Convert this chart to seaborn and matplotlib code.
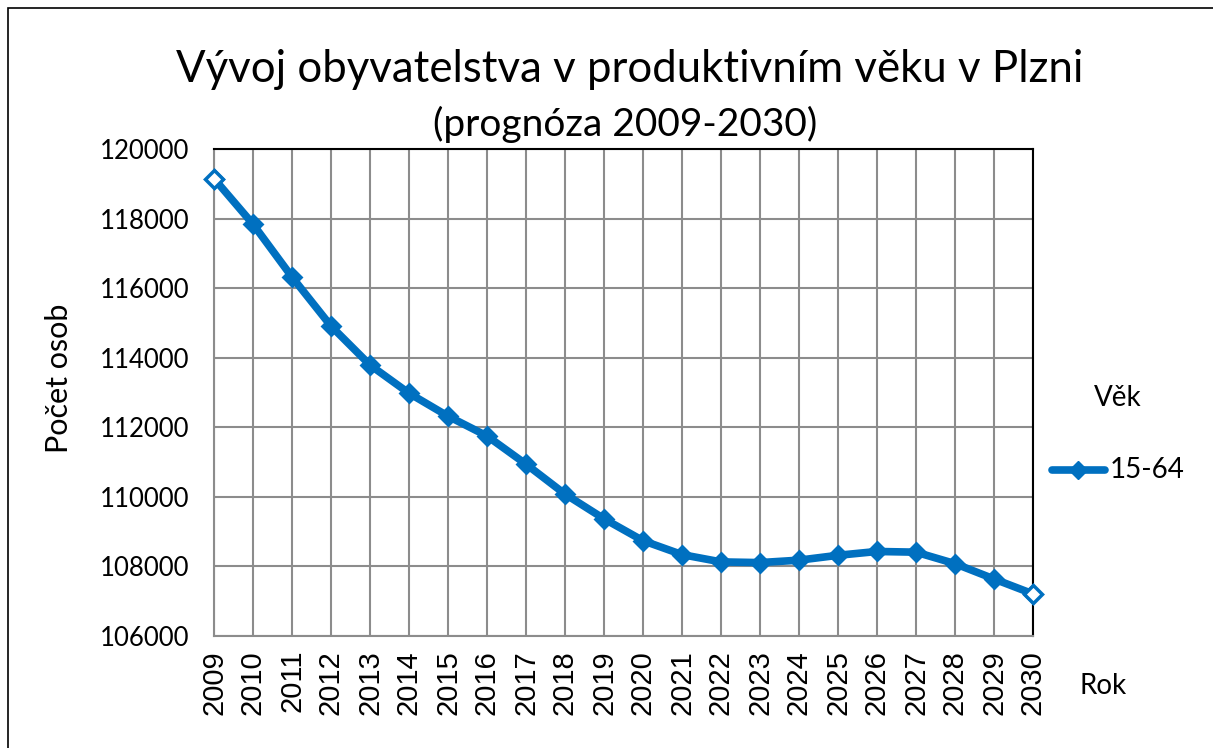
import matplotlib
matplotlib.use("Agg")
import matplotlib.pyplot as plt
import seaborn as sns
import pandas as pd
from matplotlib.patches import Rectangle

years = [str(y) for y in range(2009, 2031)]
values = [119150, 117840, 116320, 114910, 113790, 112980, 112320, 111750,
          110940, 110080, 109370, 108740, 108340, 108130, 108110, 108180,
          108320, 108430, 108410, 108080, 107640, 107210]
series_name = "15-64"
title = "Vývoj obyvatelstva v produktivním věku v Plzni"
subtitle = "(prognóza 2009-2030)"
y_ticks = [106000, 108000, 110000, 112000, 114000, 116000, 118000, 120000]

sns.set_theme(style="white")
plt.rcParams['font.family'] = ['Lato', 'DejaVu Sans']
plt.rcParams['text.color'] = 'black'
plt.rcParams['axes.labelcolor'] = 'black'
plt.rcParams['xtick.color'] = 'black'
plt.rcParams['ytick.color'] = 'black'

df = pd.DataFrame({"Rok": years, "Počet osob": values, "Věk": series_name})
df["x"] = range(len(years))

fig = plt.figure(figsize=(12.13, 7.48), dpi=100)
ax = fig.add_axes([214/1213, 1 - 636/748, (1033-214)/1213, (636-149)/748])

color = "#0070C0"
sns.lineplot(data=df, x="x", y="Počet osob", hue="Věk", palette=[color],
             marker="D", markersize=9, markeredgewidth=2, markeredgecolor=color,
             linewidth=5.5, ax=ax, legend=False, zorder=3)
# hollow end markers
ends = df.iloc[[0, -1]]
ax.plot(ends["x"], ends["Počet osob"], linestyle="none", marker="D",
        markersize=9, markerfacecolor="white", markeredgecolor=color,
        markeredgewidth=2.5, zorder=4, clip_on=False)

ax.set_xlim(0, len(years) - 1)
ax.set_ylim(106000, 120000)
ax.set_yticks(y_ticks)
ax.set_yticklabels([str(t) for t in y_ticks], fontsize=18.5)
ax.set_xticks(df["x"])
ax.set_xticklabels(years, rotation=90, fontsize=21, family=['Liberation Sans'])
ax.tick_params(axis="both", length=6, colors="black", direction="out")
ax.tick_params(axis="both", color="#888888")
ax.tick_params(axis="y", pad=12)
ax.tick_params(axis="x", pad=4)
ax.grid(True, color="#8c8c8c", linewidth=1.5)
ax.set_axisbelow(True)
for side in ["top", "right"]:
    ax.spines[side].set_color("black")
    ax.spines[side].set_linewidth(1.5)
for side in ["left", "bottom"]:
    ax.spines[side].set_color("#8c8c8c")
    ax.spines[side].set_linewidth(1.5)

ax.set_xlabel("")
ax.set_ylabel("Počet osob", fontsize=22)
ax.yaxis.set_label_coords(-0.172, 0.53)

fig.text(630/1213, 1 - 70/748, title, ha="center", va="center", fontsize=31.5)
fig.text(625/1213, 1 - 124/748, subtitle, ha="center", va="center", fontsize=28)
fig.text(1103/1213, 1 - 686/748, "Rok", ha="center", va="center", fontsize=20)

# legend
fig.text(1118/1213, 1 - 398/748, "Věk", ha="center", va="center", fontsize=20)
fig.lines.append(plt.Line2D([1052/1213, 1105/1213], [1 - 470/748, 1 - 470/748],
                            transform=fig.transFigure, color=color, linewidth=5.5,
                            solid_capstyle="round", marker=None))
fig.lines.append(plt.Line2D([1078/1213], [1 - 470/748], transform=fig.transFigure,
                            color=color, marker="D", markersize=9, linestyle="none"))
fig.text(1110/1213, 1 - 470/748, series_name, ha="left", va="center", fontsize=20)

fig.patches.append(Rectangle((8/1213, -0.01), 1.1, 1 - 8/748 + 0.01,
                             transform=fig.transFigure, fill=False,
                             edgecolor="black", linewidth=1.2))

fig.savefig("out.png", dpi=100)
